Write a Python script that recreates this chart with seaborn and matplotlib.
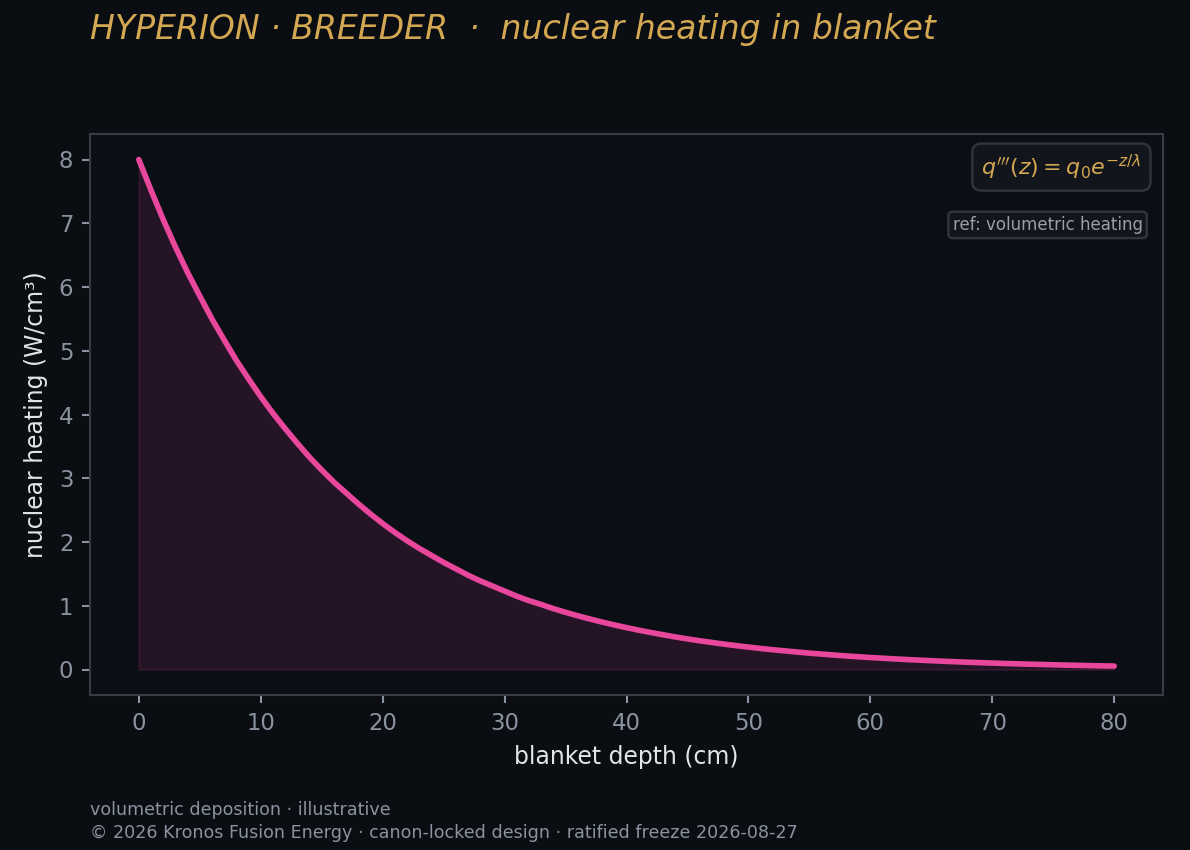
import numpy as np
import pandas as pd
import matplotlib
matplotlib.use("Agg")
import matplotlib.pyplot as plt
import seaborn as sns

# data
depth_cm = list(range(0, 81))
heating_w_cm3 = [8.00, 7.52, 7.06, 6.63, 6.23, 5.86, 5.50, 5.17, 4.85, 4.56, 4.28, 4.02, 3.78,
                 3.55, 3.33, 3.13, 2.94, 2.77, 2.60, 2.44, 2.29, 2.15, 2.02, 1.90, 1.79, 1.68,
                 1.58, 1.48, 1.39, 1.31, 1.23, 1.15, 1.08, 1.02, 0.955, 0.897, 0.843, 0.792,
                 0.744, 0.699, 0.657, 0.617, 0.580, 0.545, 0.511, 0.480, 0.451, 0.424, 0.398,
                 0.374, 0.352, 0.330, 0.310, 0.292, 0.274, 0.257, 0.242, 0.227, 0.213, 0.200,
                 0.188, 0.177, 0.166, 0.156, 0.147, 0.138, 0.129, 0.122, 0.114, 0.107, 0.101,
                 0.095, 0.089, 0.084, 0.079, 0.074, 0.069, 0.065, 0.061, 0.057, 0.054]
x_ticks = [0, 10, 20, 30, 40, 50, 60, 70, 80]
y_ticks = [0, 1, 2, 3, 4, 5, 6, 7, 8]

df = pd.DataFrame({"depth": depth_cm, "q": heating_w_cm3})

BG = "#0a0d12"
AX_BG = "#0b0e15"
PINK = "#e8479b"
GOLD = "#d4a853"
TICK = "#8a93a0"
LABEL = "#e2e4e8"
SPINE = "#383c44"

sns.set_theme(style="dark")
plt.rcParams["font.family"] = ["DejaVu Sans"]

fig = plt.figure(figsize=(1190 / 150, 850 / 150), dpi=150, facecolor=BG)
ax = fig.add_axes([90 / 1190, 1 - 695 / 850, (1163 - 90) / 1190, (695 - 134) / 850])
ax.set_facecolor(AX_BG)

ax.fill_between(df["depth"], df["q"], 0, facecolor=PINK, alpha=0.12,
                edgecolor=PINK, linewidth=1.0)
sns.lineplot(data=df, x="depth", y="q", ax=ax, color=PINK, linewidth=2.7)

ax.set_xlim(-4, 84)
ax.set_ylim(-0.4, 8.4)
ax.set_xticks(x_ticks)
ax.set_yticks(y_ticks)
ax.grid(False)

for s in ax.spines.values():
    s.set_visible(True)
    s.set_color(SPINE)
    s.set_linewidth(1.0)

ax.tick_params(axis="both", colors=TICK, labelsize=10.9, length=4, width=1,
               left=True, bottom=True, pad=4)
ax.set_xlabel("blanket depth (cm)", color=LABEL, fontsize=11.3, labelpad=5)
ax.set_ylabel("nuclear heating (W/cm³)", color=LABEL, fontsize=11.3, labelpad=5)

fig.text(90 / 1190, 1 - 29 / 850, "HYPERION · BREEDER  ·  nuclear heating in blanket",
         color=GOLD, fontsize=15.9, fontstyle="italic", ha="left", va="center")

ax.text(0.980, 0.967, r"$q'''(z) = q_0 e^{-z/\lambda}$", transform=ax.transAxes,
        ha="right", va="top", color=GOLD, fontsize=10.7,
        bbox=dict(boxstyle="round,pad=0.4", facecolor="#12151b", edgecolor="#2f333b", linewidth=1.2))
ax.text(0.981, 0.854, "ref: volumetric heating", transform=ax.transAxes,
        ha="right", va="top", color="#9aa0aa", fontsize=8.0,
        bbox=dict(boxstyle="round,pad=0.25", facecolor="#12151b", edgecolor="#2f333b", linewidth=1.2))

fig.text(90 / 1190, 1 - 810 / 850, "volumetric deposition · illustrative",
         color=TICK, fontsize=8.4, ha="left", va="center")
fig.text(90 / 1190, 1 - 833 / 850, "© 2026 Kronos Fusion Energy · canon-locked design · ratified freeze 2026-08-27",
         color=TICK, fontsize=8.4, ha="left", va="center")

fig.savefig("out.png", dpi=150, facecolor=BG)
